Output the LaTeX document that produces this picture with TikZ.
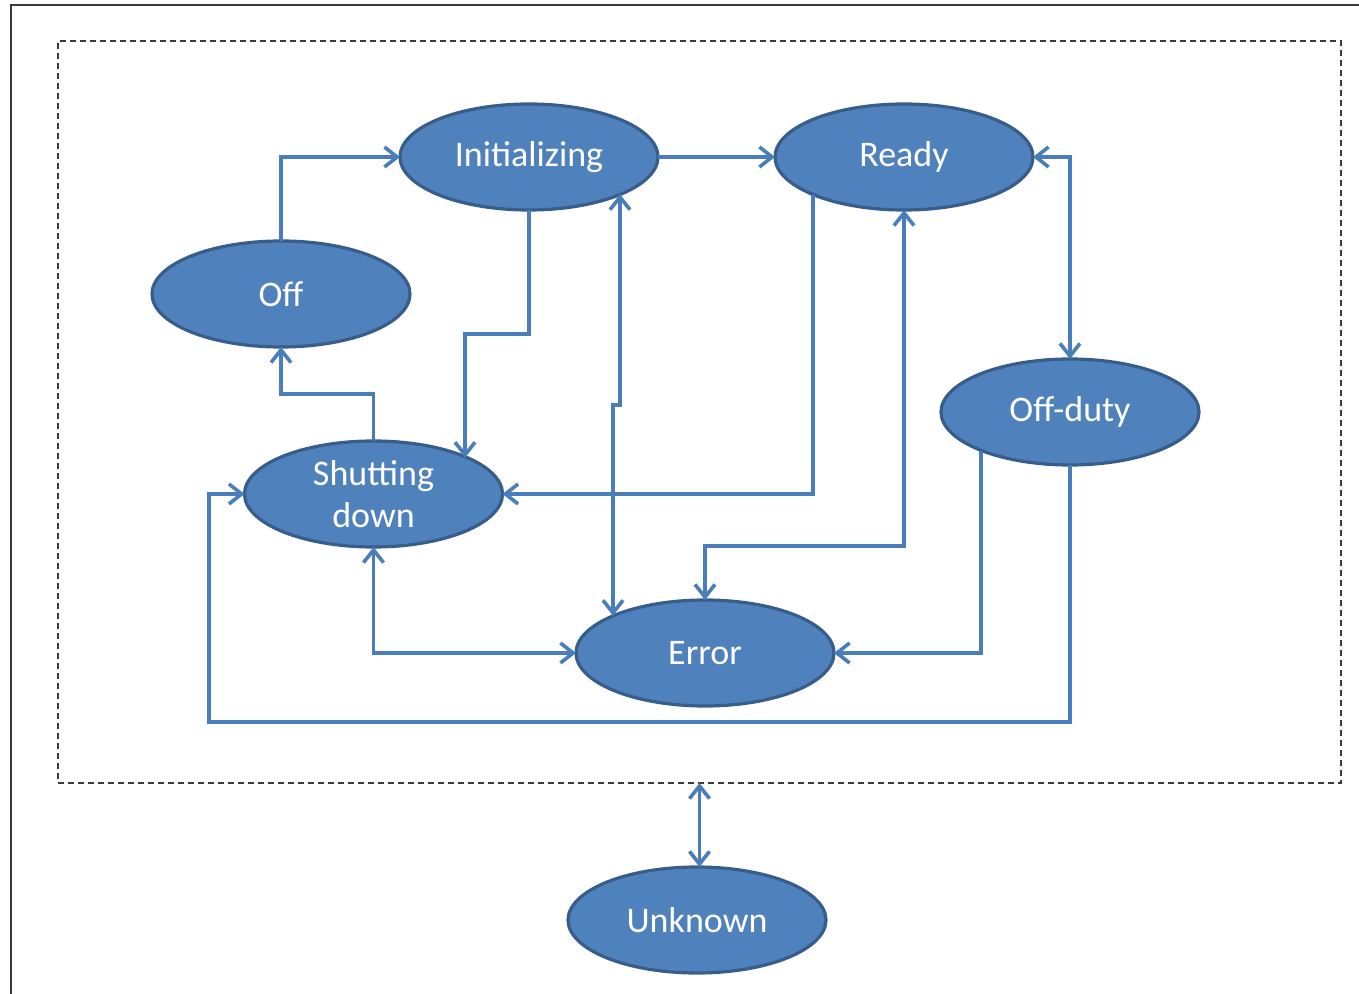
\documentclass[tikz,border=0pt]{standalone}
\usepackage{fontspec}
\setmainfont{Carlito}
\usetikzlibrary{arrows.meta,shapes.geometric}
\definecolor{statefill}{HTML}{4F81BD}
\definecolor{stateedge}{HTML}{385D8A}
\definecolor{linkblue}{HTML}{4A7EBB}
\definecolor{framegrey}{HTML}{3A3A3A}
\begin{document}
\begin{tikzpicture}[x=0.75pt,y=-0.75pt,
  state/.style={ellipse, fill=statefill, draw=stateedge, line width=2.4pt,
    minimum width=193.5pt, minimum height=79.5pt, inner sep=0pt, outer sep=0pt,
    text=white, font=\fontsize{27}{31.5}\selectfont, align=center},
  link/.style={draw=linkblue, line width=2.7pt, line join=miter},
  >={Straight Barb[length=9.5pt,width=15pt]}]
\useasboundingbox (0,0) rectangle (1359,994);

% outer frame and the dashed group boundary
\draw[framegrey, line width=1.8pt] (11,994) -- (11,5) -- (1359,5);
\node[draw=framegrey, line width=1.1pt, dash pattern=on 4.5pt off 3pt,
  minimum width=962.25pt, minimum height=556.5pt, inner sep=0pt, outer sep=0pt]
  (grp) at (699.5,412) {};

% states
\node[state] (init)  at (529,157) {Initializing};
\node[state] (ready) at (904,157) {Ready};
\node[state] (off)   at (281,294) {Off};
\node[state] (offd)  at (1070,412) {Off-duty};
\node[state] (shut)  at (373.5,494) {Shutting\\down};
\node[state] (err)   at (705,653) {Error};
\node[state] (unk)   at (697,920) {Unknown};

% bends of the routed transitions
\coordinate (bendA) at (465,334);
\coordinate (jogU)  at (620,405);
\coordinate (jogL)  at (613,405);
\coordinate (railR) at (813,494);
\coordinate (railE) at (981,653);

% transitions
\draw[link,->] (off.north) |- (init.west);
\draw[link,->] (init.east) -- (ready.west);
\draw[link,->] (init.south) |- (bendA) -- (shut.21.9 -| bendA);
\draw[link,<->] (init.-22.4 -| jogU) -- (jogU) -- (jogL) -- (err.158 -| jogL);
\draw[link,->] (ready.-157.6 -| railR) |- (shut.east);
\draw[link,<->] (err.north) -- (705,546) -| (ready.south);
\draw[link,<->] (ready.east) -| (offd.north);
\draw[link,->] (offd.-156.7 -| railE) |- (err.east);
\draw[link,->] (offd.south) |- (209,722) |- (shut.west);
\draw[link,->] (shut.north) -- (373.5,394) -| (off.south);
\draw[link,<->] (shut.south) |- (err.west);
\draw[link,<->] (grp.south) -- (grp.south |- unk.north);
\end{tikzpicture}
\end{document}
